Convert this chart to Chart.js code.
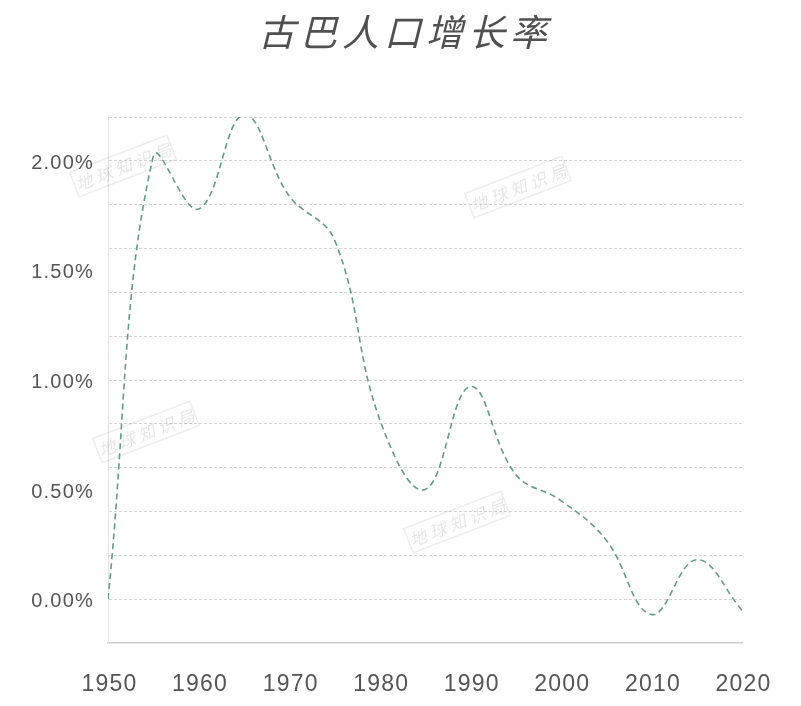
<!DOCTYPE html>
<html>
<head>
<meta charset="utf-8">
<script src="https://cdn.jsdelivr.net/npm/chart.js@4"></script>
<style>
  html, body { margin: 0; padding: 0; background: #fff; }
  #wrap { width: 801px; height: 706px; }
</style>
</head>
<body>
<div id="wrap"><canvas id="myChart" width="801" height="706"></canvas></div>
<script>
// Cuba population growth rate, every 5 years
const years = [1950, 1955, 1960, 1965, 1970, 1975, 1980, 1985, 1990, 1995, 2000, 2005, 2010, 2015, 2020];
const growthRate = [0.00, 2.02, 1.78, 2.21, 1.84, 1.64, 0.82, 0.50, 0.97, 0.57, 0.45, 0.27, -0.07, 0.18, -0.05];
const yLabelValues = [0, 0.5, 1, 1.5, 2];
const xTickYears = [1950, 1960, 1970, 1980, 1990, 2000, 2010, 2020];
const chartTitle = '古巴人口增长率';
const watermarkText = '地球知识局';

const near = (a, b) => Math.abs(a - b) < 1e-6;

// letter-spaced text for ticks, plus the title and the faint watermark stamps
const decorPlugin = {
    id: 'decor',
    beforeDraw(chart) {
        chart.ctx.letterSpacing = '1.2px';
    },
    beforeDatasetsDraw(chart) {
        const ctx = chart.ctx;
        const spots = [[123, 166], [518, 187], [146, 432], [457, 522]];
        spots.forEach(([x, y]) => {
            ctx.save();
            ctx.translate(x, y);
            ctx.rotate(-21 * Math.PI / 180);
            ctx.strokeStyle = 'rgba(0,0,0,0.07)';
            ctx.lineWidth = 1.5;
            ctx.strokeRect(-52, -13, 104, 26);
            ctx.fillStyle = 'rgba(0,0,0,0.10)';
            ctx.font = 'italic 17px "Noto Sans CJK SC"';
            ctx.textAlign = 'center';
            ctx.textBaseline = 'middle';
            ctx.letterSpacing = '4px';
            ctx.fillText(watermarkText, 2, 1);
            ctx.restore();
        });
    },
    afterDraw(chart) {
        const ctx = chart.ctx;
        ctx.save();
        ctx.fillStyle = '#505050';
        ctx.font = 'italic 37px "Noto Sans CJK SC"';
        ctx.textAlign = 'center';
        ctx.textBaseline = 'middle';
        ctx.letterSpacing = '5px';
        ctx.fillText(chartTitle, 405, 32);
        ctx.restore();
    }
};

const ctx = document.getElementById('myChart').getContext('2d');
new Chart(ctx, {
    type: 'line',
    data: {
        datasets: [{
            label: chartTitle,
            data: years.map((yr, i) => ({ x: yr, y: growthRate[i] })),
            borderColor: '#649a86',
            borderWidth: 1.6,
            borderDash: [6, 4],
            tension: 0.4,
            pointRadius: 0,
            fill: false
        }]
    },
    options: {
        responsive: false,
        animation: false,
        layout: { padding: { left: 0, right: 59, top: 117, bottom: 0 } },
        plugins: {
            legend: { display: false },
            tooltip: { enabled: false },
            title: { display: false }
        },
        scales: {
            x: {
                type: 'linear',
                min: 1950,
                max: 2020,
                afterBuildTicks: (scale) => { scale.ticks = xTickYears.map(v => ({ value: v })); },
                afterFit: (scale) => { scale.height = 63; },
                grid: { display: false },
                border: { display: true, color: '#cfcfcf', width: 1.5 },
                ticks: {
                    color: '#555',
                    font: { family: '"Liberation Sans", Arial', size: 23 },
                    padding: 20,
                    labelOffset: 1.5,
                    maxRotation: 0,
                    callback: (v) => String(v)
                }
            },
            y: {
                min: -0.2,
                max: 2.2,
                afterBuildTicks: (scale) => {
                    const t = [];
                    for (let i = -2; i <= 22; i++) t.push({ value: i / 10 });
                    scale.ticks = t;
                },
                afterFit: (scale) => { scale.width = 108; },
                grid: {
                    drawTicks: false,
                    color: (c) => {
                        const v = c.tick ? c.tick.value : 0;
                        if (v < -0.1) return 'rgba(0,0,0,0)';
                        return near(Math.round(v * 5) / 5, v) ? '#d4d4d4' : 'rgba(0,0,0,0)';
                    },
                    lineWidth: 1
                },
                border: { display: true, color: '#e2e2e2', width: 1, dash: [3, 2] },
                ticks: {
                    color: '#555',
                    font: { family: '"Liberation Sans", Arial', size: 20 },
                    padding: 14,
                    labelOffset: 2.5,
                    autoSkip: false,
                    callback: (v) => yLabelValues.some(l => near(l, v)) ? v.toFixed(2) + '%' : ''
                }
            }
        }
    },
    plugins: [decorPlugin]
});
</script>
</body>
</html>
